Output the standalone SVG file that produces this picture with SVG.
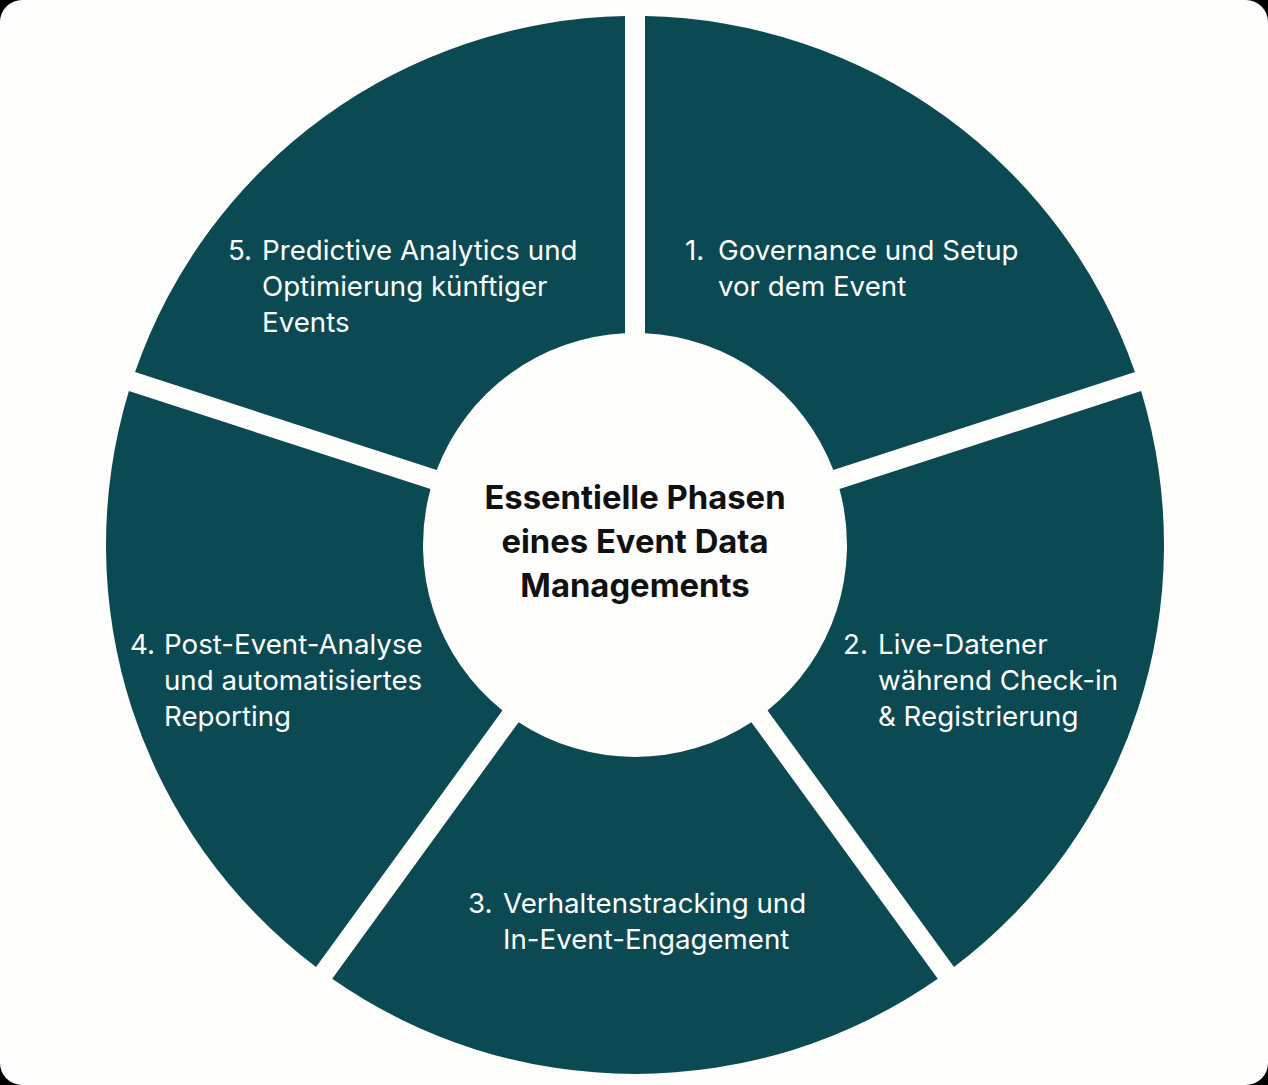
<svg xmlns="http://www.w3.org/2000/svg" width="1268" height="1085" viewBox="0 0 1268 1085">
<style>
.seg{fill:#0b4a52}
.lbl{font-family:Inter,"Noto Sans","Liberation Sans",sans-serif;font-size:27.7px;fill:#ffffff}
.title{font-family:Inter,"Noto Sans","Liberation Sans",sans-serif;font-size:32.8px;font-weight:700;fill:#111111;text-anchor:middle}
</style>
<rect x="0" y="0" width="1268" height="1085" fill="#000000"/>
<rect x="0" y="0" width="1268" height="1085" rx="22" ry="22" fill="#fdfdfc"/>
<g id="connectors"></g>
<g id="phase1">
<path class="seg" d="M645,16.10 A529,529 0 0 1 1134.93,372.05 L833.31,470.05 A212,212 0 0 0 645,333.24 Z"/>
<text class="lbl" x="685" y="260">1.</text>
<text class="lbl" x="718" y="260">Governance und Setup</text>
<text class="lbl" x="718" y="296">vor dem Event</text>
</g>
<g id="phase2">
<path class="seg" d="M1141.11,391.07 A529,529 0 0 1 953.97,967.02 L767.56,710.44 A212,212 0 0 0 839.49,489.07 Z"/>
<text class="lbl" x="843" y="654">2.</text>
<text class="lbl" x="878" y="654">Live-Datener</text>
<text class="lbl" x="878" y="690">während Check-in</text>
<text class="lbl" x="878" y="726">&amp; Registrierung</text>
</g>
<g id="phase3">
<path class="seg" d="M937.79,978.77 A529,529 0 0 1 332.21,978.77 L518.62,722.20 A212,212 0 0 0 751.38,722.20 Z"/>
<text class="lbl" x="468" y="913">3.</text>
<text class="lbl" x="503" y="913">Verhaltenstracking und</text>
<text class="lbl" x="503" y="949">In-Event-Engagement</text>
</g>
<g id="phase4">
<path class="seg" d="M316.03,967.02 A529,529 0 0 1 128.89,391.07 L430.51,489.07 A212,212 0 0 0 502.44,710.44 Z"/>
<text class="lbl" x="130" y="654">4.</text>
<text class="lbl" x="164" y="654">Post-Event-Analyse</text>
<text class="lbl" x="164" y="690">und automatisiertes</text>
<text class="lbl" x="164" y="726">Reporting</text>
</g>
<g id="phase5">
<path class="seg" d="M135.07,372.05 A529,529 0 0 1 625,16.10 L625,333.24 A212,212 0 0 0 436.69,470.05 Z"/>
<text class="lbl" x="228" y="260">5.</text>
<text class="lbl" x="262" y="260">Predictive Analytics und</text>
<text class="lbl" x="262" y="296">Optimierung künftiger</text>
<text class="lbl" x="262" y="332">Events</text>
</g>
<g id="center">
<text class="title" x="635" y="509">Essentielle Phasen</text>
<text class="title" x="635" y="553">eines Event Data</text>
<text class="title" x="635" y="597">Managements</text>
</g>
</svg>
